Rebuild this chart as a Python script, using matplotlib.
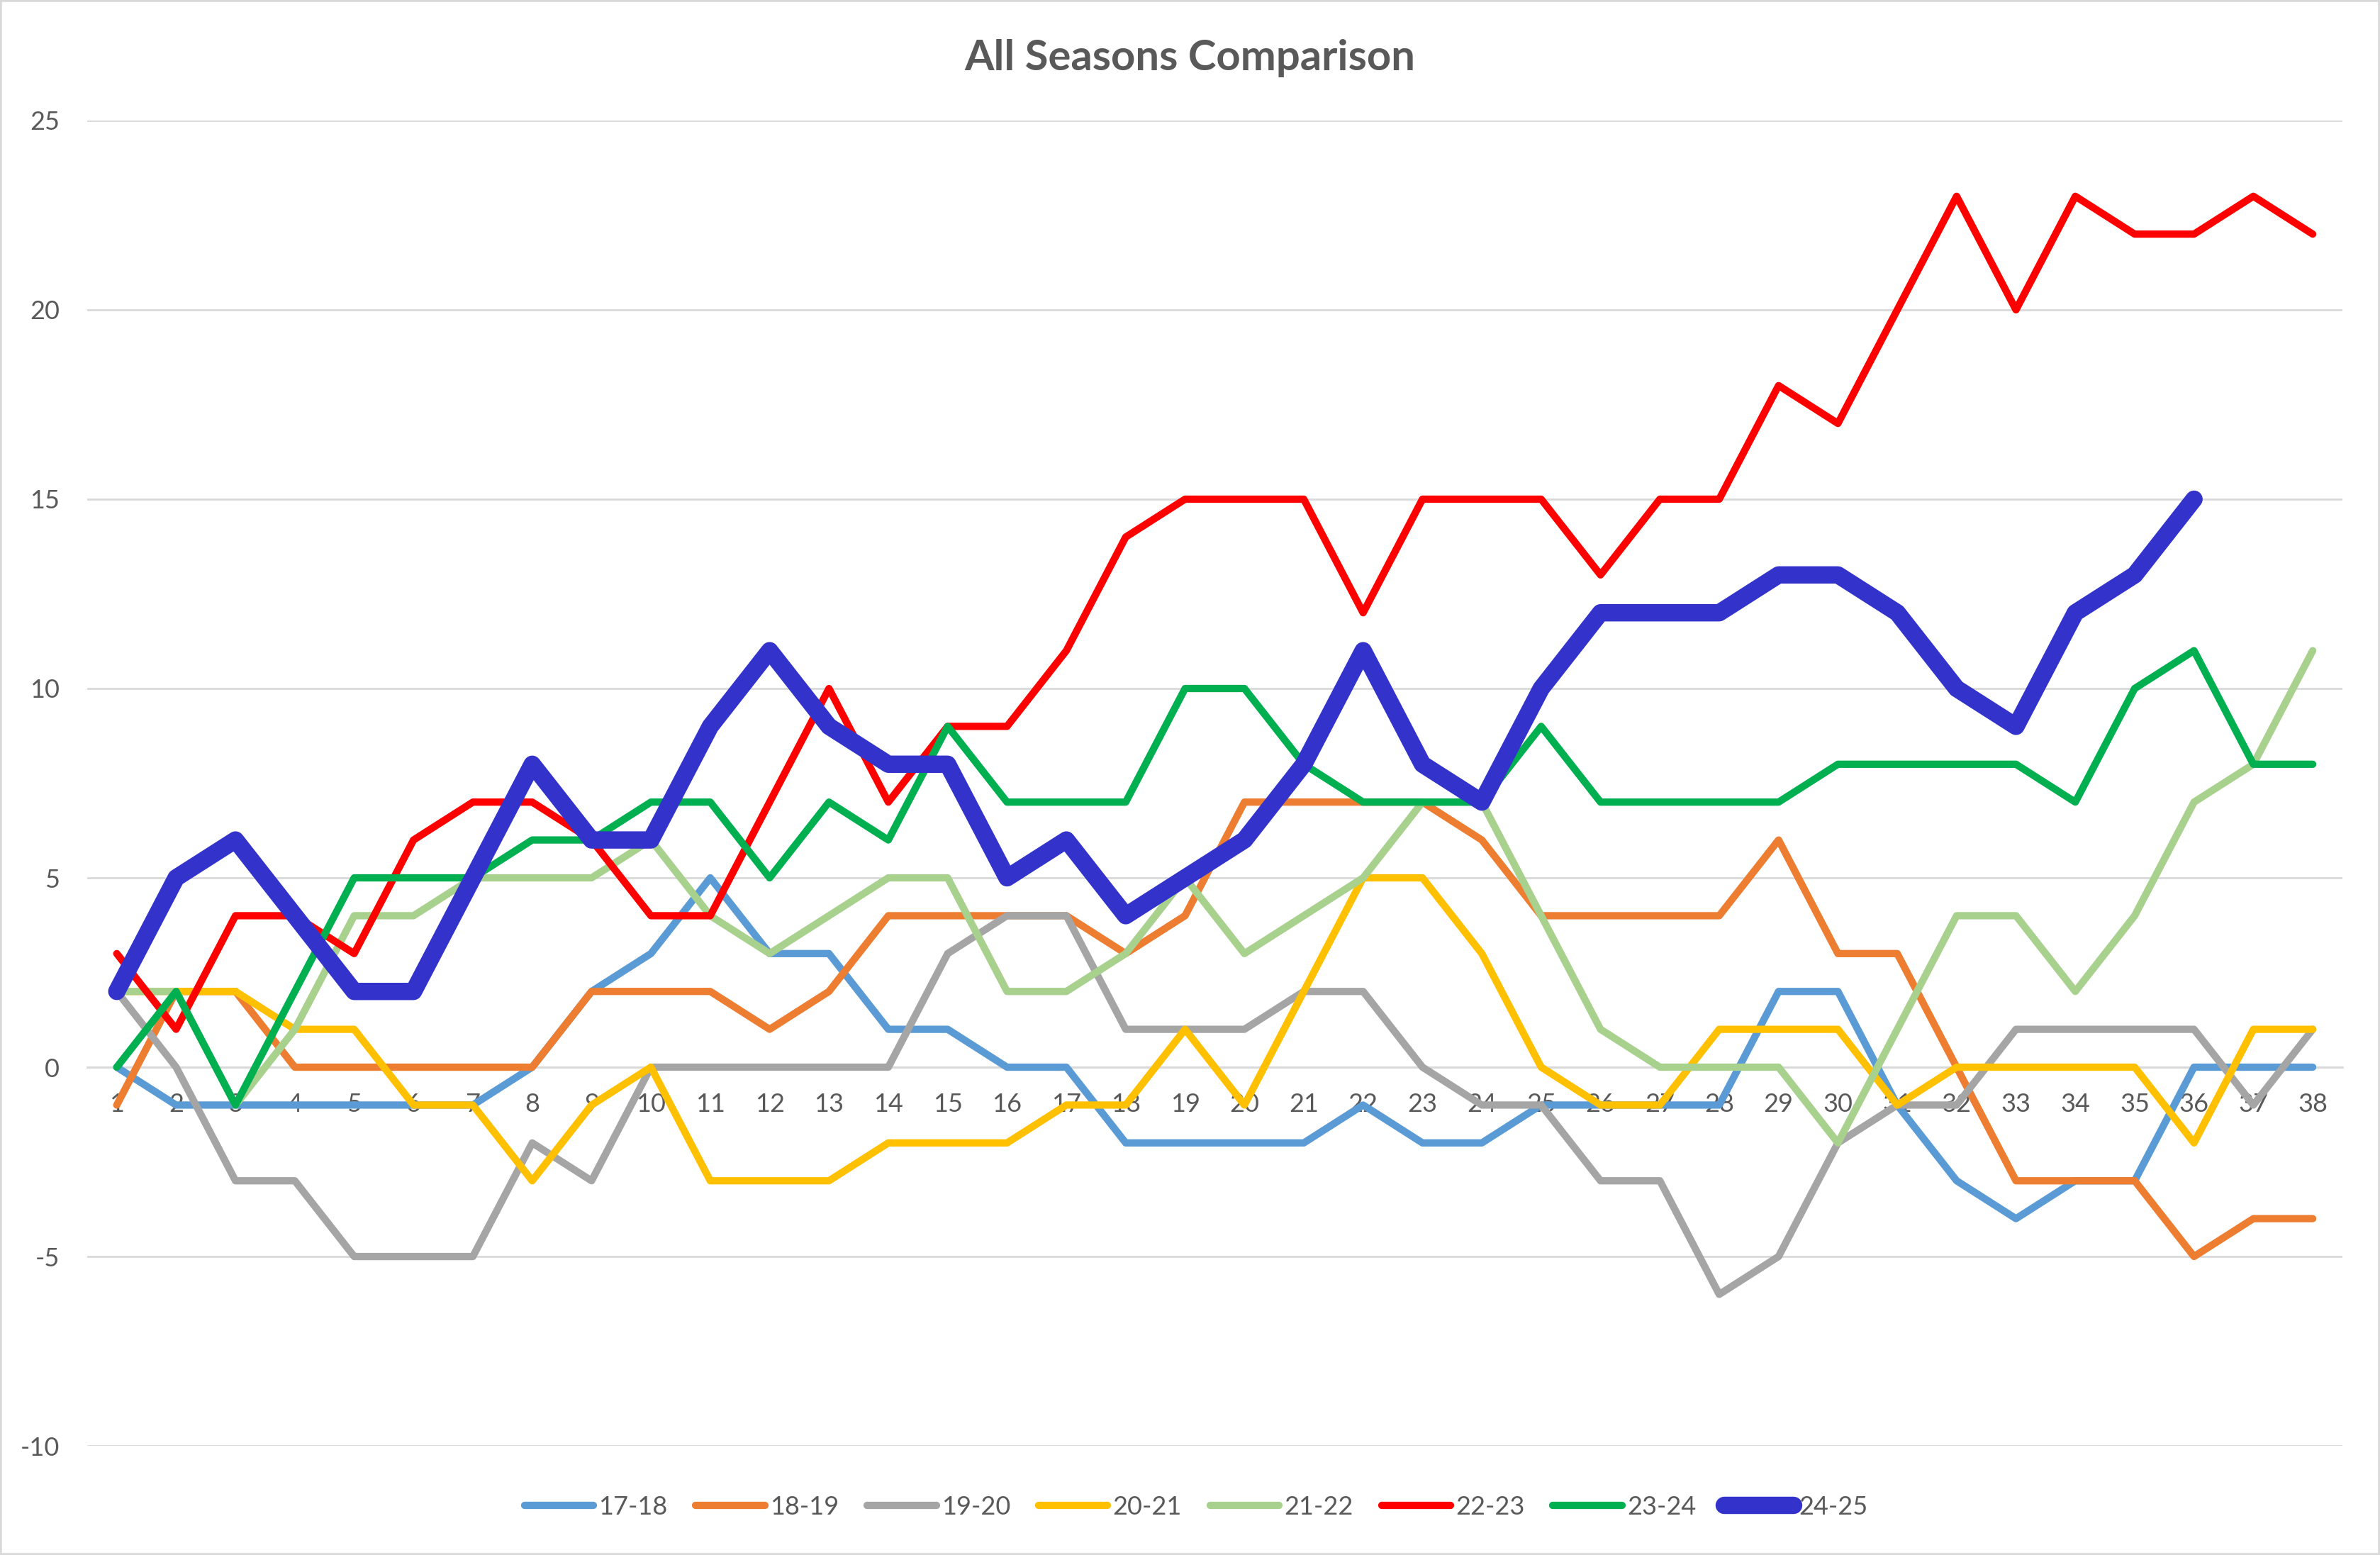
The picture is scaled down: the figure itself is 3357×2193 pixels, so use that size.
import matplotlib
matplotlib.use("Agg")
import matplotlib.pyplot as plt
from matplotlib.patches import Rectangle

# matchweek numbers and the goal difference per season
weeks = list(range(1, 39))

s17_18 = [0, -1, -1, -1, -1, -1, -1, 0, 2, 3, 5, 3, 3, 1, 1, 0, 0, -2, -2, -2,
          -2, -1, -2, -2, -1, -1, -1, -1, 2, 2, -1, -3, -4, -3, -3, 0, 0, 0]
s18_19 = [-1, 2, 2, 0, 0, 0, 0, 0, 2, 2, 2, 1, 2, 4, 4, 4, 4, 3, 4, 7,
          7, 7, 7, 6, 4, 4, 4, 4, 6, 3, 3, 0, -3, -3, -3, -5, -4, -4]
s19_20 = [2, 0, -3, -3, -5, -5, -5, -2, -3, 0, 0, 0, 0, 0, 3, 4, 4, 1, 1, 1,
          2, 2, 0, -1, -1, -3, -3, -6, -5, -2, -1, -1, 1, 1, 1, 1, -1, 1]
s20_21 = [2, 2, 2, 1, 1, -1, -1, -3, -1, 0, -3, -3, -3, -2, -2, -2, -1, -1, 1, -1,
          2, 5, 5, 3, 0, -1, -1, 1, 1, 1, -1, 0, 0, 0, 0, -2, 1, 1]
s21_22 = [2, 2, -1, 1, 4, 4, 5, 5, 5, 6, 4, 3, 4, 5, 5, 2, 2, 3, 5, 3,
          4, 5, 7, 7, 4, 1, 0, 0, 0, -2, 1, 4, 4, 2, 4, 7, 8, 11]
s22_23 = [3, 1, 4, 4, 3, 6, 7, 7, 6, 4, 4, 7, 10, 7, 9, 9, 11, 14, 15, 15,
          15, 12, 15, 15, 15, 13, 15, 15, 18, 17, 20, 23, 20, 23, 22, 22, 23, 22]
s23_24 = [0, 2, -1, 2, 5, 5, 5, 6, 6, 7, 7, 5, 7, 6, 9, 7, 7, 7, 10, 10,
          8, 7, 7, 7, 9, 7, 7, 7, 7, 8, 8, 8, 8, 7, 10, 11, 8, 8]
s24_25 = [2, 5, 6, 4, 2, 2, 5, 8, 6, 6, 9, 11, 9, 8, 8, 5, 6, 4, 5, 6,
          8, 11, 8, 7, 10, 12, 12, 12, 13, 13, 12, 10, 9, 12, 13, 15]

labels = ["17-18", "18-19", "19-20", "20-21", "21-22", "22-23", "23-24", "24-25"]
series = [s17_18, s18_19, s19_20, s20_21, s21_22, s22_23, s23_24, s24_25]
colors = ["#5B9BD5", "#ED7D31", "#A5A5A5", "#FFC000", "#A9D18E", "#FF0000", "#00B050", "#3333CC"]
widths = [3.7, 3.7, 3.7, 3.7, 3.7, 3.7, 3.7, 8.8]

plt.rcParams['font.family'] = ['Lato', 'DejaVu Sans']
plt.rcParams['axes.unicode_minus'] = False
txt = "#595959"
grid = "#D9D9D9"

fig = plt.figure(figsize=(16.785, 10.965), dpi=200)
ax = fig.add_axes([0.0366, 0.0702, 0.9476, 0.8523])

for vals, lab, c, lw in zip(series, labels, colors, widths):
	ax.plot(weeks[:len(vals)], vals, color=c, lw=lw, label=lab, zorder=3,
	        solid_capstyle='round', solid_joinstyle='round')

ax.set_xlim(0.5, 38.5)
ax.set_ylim(-10, 25)
ax.set_yticks(range(-10, 26, 5))
ax.set_xticks(weeks)
ax.grid(axis='y', color=grid, lw=1.0)
ax.set_axisbelow(True)

for s in ['top', 'right', 'left']:
	ax.spines[s].set_visible(False)
ax.spines['bottom'].set_position(('data', 0))
ax.spines['bottom'].set_color(grid)
ax.spines['bottom'].set_linewidth(1.0)
ax.spines['bottom'].set_zorder(1)

ax.tick_params(axis='both', length=0, labelsize=13, labelcolor=txt)
ax.tick_params(axis='x', pad=13)
ax.tick_params(axis='y', pad=14)

fig.suptitle("All Seasons Comparison", y=0.975, fontsize=21.5, fontweight='bold', color=txt)

fig.legend(loc='center', bbox_to_anchor=(0.5025, 0.031), ncol=8, frameon=False,
           fontsize=13, labelcolor=txt, handlelength=2.7, handletextpad=0.2,
           columnspacing=1.1)

fig.patches.append(Rectangle((0, 0), 1, 1, transform=fig.transFigure, fill=False,
                             edgecolor=grid, lw=2))

fig.savefig("out.png", dpi=200, facecolor='white')
